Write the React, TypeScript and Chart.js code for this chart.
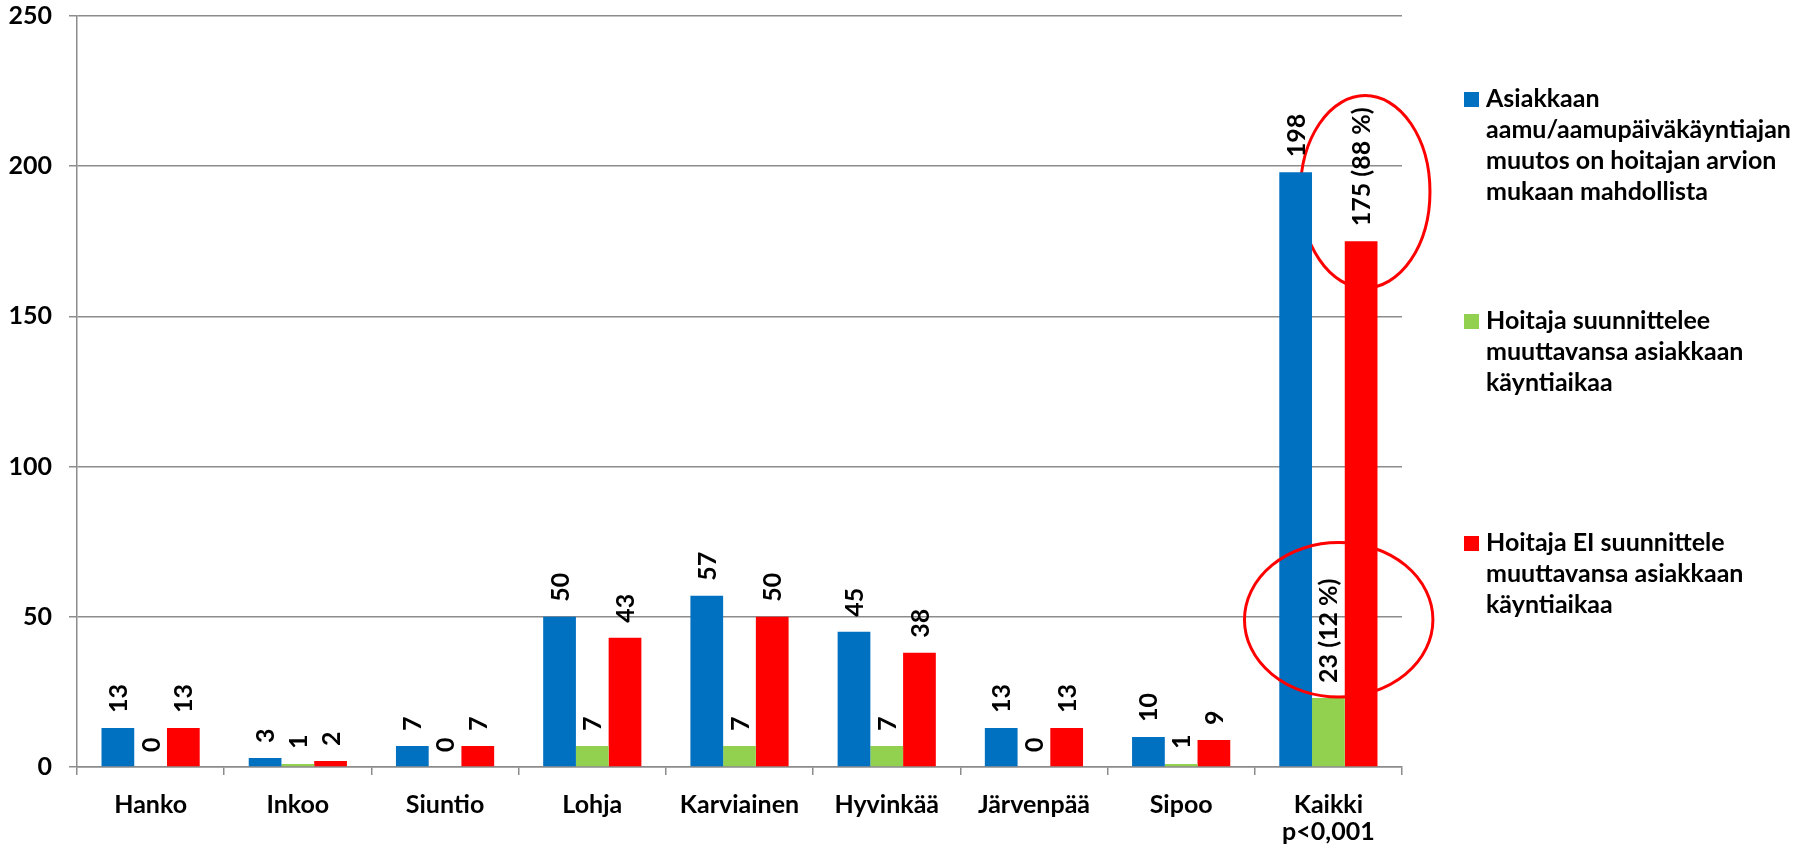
import React, { useEffect, useRef } from "react";
import { Chart, registerables } from "chart.js";

Chart.register(...registerables);

const categories: (string | string[])[] = [
  "Hanko",
  "Inkoo",
  "Siuntio",
  "Lohja",
  "Karviainen",
  "Hyvinkää",
  "Järvenpää",
  "Sipoo",
  ["Kaikki", "p<0,001"],
];

const seriesNames = [
  "Asiakkaan aamu/aamupäiväkäyntiajan muutos on hoitajan arvion mukaan mahdollista",
  "Hoitaja suunnittelee muuttavansa asiakkaan käyntiaikaa",
  "Hoitaja EI suunnittele muuttavansa asiakkaan käyntiaikaa",
];

const legendLines = [
  ["Asiakkaan", "aamu/aamupäiväkäyntiajan", "muutos on hoitajan arvion", "mukaan mahdollista"],
  ["Hoitaja suunnittelee", "muuttavansa asiakkaan", "käyntiaikaa"],
  ["Hoitaja EI suunnittele", "muuttavansa asiakkaan", "käyntiaikaa"],
];

const possibleValues = [13, 3, 7, 50, 57, 45, 13, 10, 198];
const plansValues = [0, 1, 0, 7, 7, 7, 0, 1, 23];
const notPlansValues = [13, 2, 7, 43, 50, 38, 13, 9, 175];

// shares shown beside the values of the last category ("Kaikki")
const totalShares = ["", "12 %", "88 %"];

const yMin = 0;
const yMax = 250;
const yStep = 50;

const colors = ["#0070C0", "#92D050", "#FF0000"];

const FONT = "Lato, 'Open Sans', sans-serif";
const FONT_SIZE = 25;
const GRID = "#8c8c8c";

export default function App() {
  const ref = useRef<HTMLCanvasElement | null>(null);

  useEffect(() => {
    document.body.style.margin = "0";
    const canvas = ref.current;
    if (!canvas) return;

    const seriesValues = [possibleValues, plansValues, notPlansValues];

    const drawEllipse = (chart: any, which: number) => {
      const xs = chart.scales.x;
      const ys = chart.scales.y;
      const ctx = chart.ctx;
      const last = categories.length - 1;
      const catW = xs.getPixelForValue(1) - xs.getPixelForValue(0);
      const cx0 = xs.getPixelForValue(last);
      const unit = Math.abs(ys.getPixelForValue(0) - ys.getPixelForValue(1));
      let cx, cy, rx, ry;
      if (which === 0) {
        cx = cx0 + 0.25 * catW;
        cy = ys.getPixelForValue(191.5);
        rx = 0.44 * catW;
        ry = 32 * unit;
      } else {
        cx = cx0 + 0.07 * catW;
        cy = ys.getPixelForValue(49);
        rx = 0.64 * catW;
        ry = 25.7 * unit;
      }
      ctx.save();
      ctx.beginPath();
      ctx.ellipse(cx, cy, rx, ry, 0, 0, Math.PI * 2);
      ctx.strokeStyle = "#FF0000";
      ctx.lineWidth = 3;
      ctx.stroke();
      ctx.restore();
    };

    const annotations = {
      id: "annotations",
      beforeDatasetsDraw(chart: any) {
        drawEllipse(chart, 0);
      },
      afterDatasetsDraw(chart: any) {
        const ctx = chart.ctx;
        const last = categories.length - 1;
        ctx.save();
        ctx.font = `bold ${FONT_SIZE}px ${FONT}`;
        ctx.fillStyle = "#000";
        ctx.textAlign = "left";
        ctx.textBaseline = "middle";
        chart.data.datasets.forEach((ds: any, i: number) => {
          const meta = chart.getDatasetMeta(i);
          meta.data.forEach((bar: any, j: number) => {
            let text = String(ds.data[j]);
            if (j === last && totalShares[i]) text += ` (${totalShares[i]})`;
            ctx.save();
            ctx.translate(bar.x, bar.y - 15);
            ctx.rotate(-Math.PI / 2);
            ctx.fillText(text, 0, 1);
            ctx.restore();
          });
        });
        ctx.restore();
        drawEllipse(chart, 1);
      },
      afterDraw(chart: any) {
        const ctx = chart.ctx;
        const area = chart.chartArea;
        const x0 = area.right + 62;
        const firstBase = area.top + 91;
        const entryGap = 222;
        const lineGap = 31;
        ctx.save();
        ctx.font = `bold ${FONT_SIZE}px ${FONT}`;
        ctx.fillStyle = "#000";
        ctx.textAlign = "left";
        ctx.textBaseline = "alphabetic";
        legendLines.forEach((lines, i) => {
          const base = firstBase + i * entryGap;
          ctx.fillStyle = colors[i];
          ctx.fillRect(x0, base - 15, 15, 15);
          ctx.fillStyle = "#000";
          lines.forEach((ln, k) => {
            ctx.fillText(ln, x0 + 22, base + k * lineGap);
          });
        });
        ctx.restore();
      },
    };

    const chart = new Chart(canvas, {
      type: "bar",
      data: {
        labels: categories,
        datasets: seriesValues.map((vals, i) => ({
          label: seriesNames[i],
          data: vals,
          backgroundColor: colors[i],
          borderWidth: 0,
          categoryPercentage: 0.667,
          barPercentage: 1,
        })),
      },
      options: {
        responsive: false,
        devicePixelRatio: 1,
        animation: false,
        layout: { padding: { top: 16, right: 412, left: 0, bottom: 0 } },
        plugins: {
          legend: { display: false },
          tooltip: { enabled: false },
          title: { display: false },
        },
        scales: {
          x: {
            afterFit(s: any) {
              s.height = 81;
              s.paddingLeft = 0;
              s.paddingRight = 0;
            },
            grid: {
              display: true,
              drawOnChartArea: false,
              drawTicks: true,
              tickLength: 8,
              color: GRID,
              lineWidth: 1.5,
              offset: true,
            },
            border: { display: true, color: GRID, width: 1.5 },
            ticks: {
              color: "#000",
              padding: 16,
              maxRotation: 0,
              autoSkip: false,
              font: { family: FONT, size: FONT_SIZE, weight: "bold", lineHeight: 1.1 },
            },
          },
          y: {
            min: yMin,
            max: yMax,
            afterFit(s: any) {
              s.width = 77;
              s.paddingTop = 0;
              s.paddingBottom = 0;
            },
            grid: {
              color: GRID,
              lineWidth: 1.5,
              drawTicks: true,
              tickLength: 8,
            },
            border: { display: true, color: GRID, width: 1.5 },
            ticks: {
              stepSize: yStep,
              color: "#000",
              padding: 17,
              font: { family: FONT, size: FONT_SIZE, weight: "bold" },
            },
          },
        },
      },
      plugins: [annotations],
    } as any);

    return () => chart.destroy();
  }, []);

  return (
    <div style={{ position: "absolute", left: 0, top: 0, width: 1814, height: 848, background: "#fff" }}>
      <canvas ref={ref} width={1814} height={848} />
    </div>
  );
}
